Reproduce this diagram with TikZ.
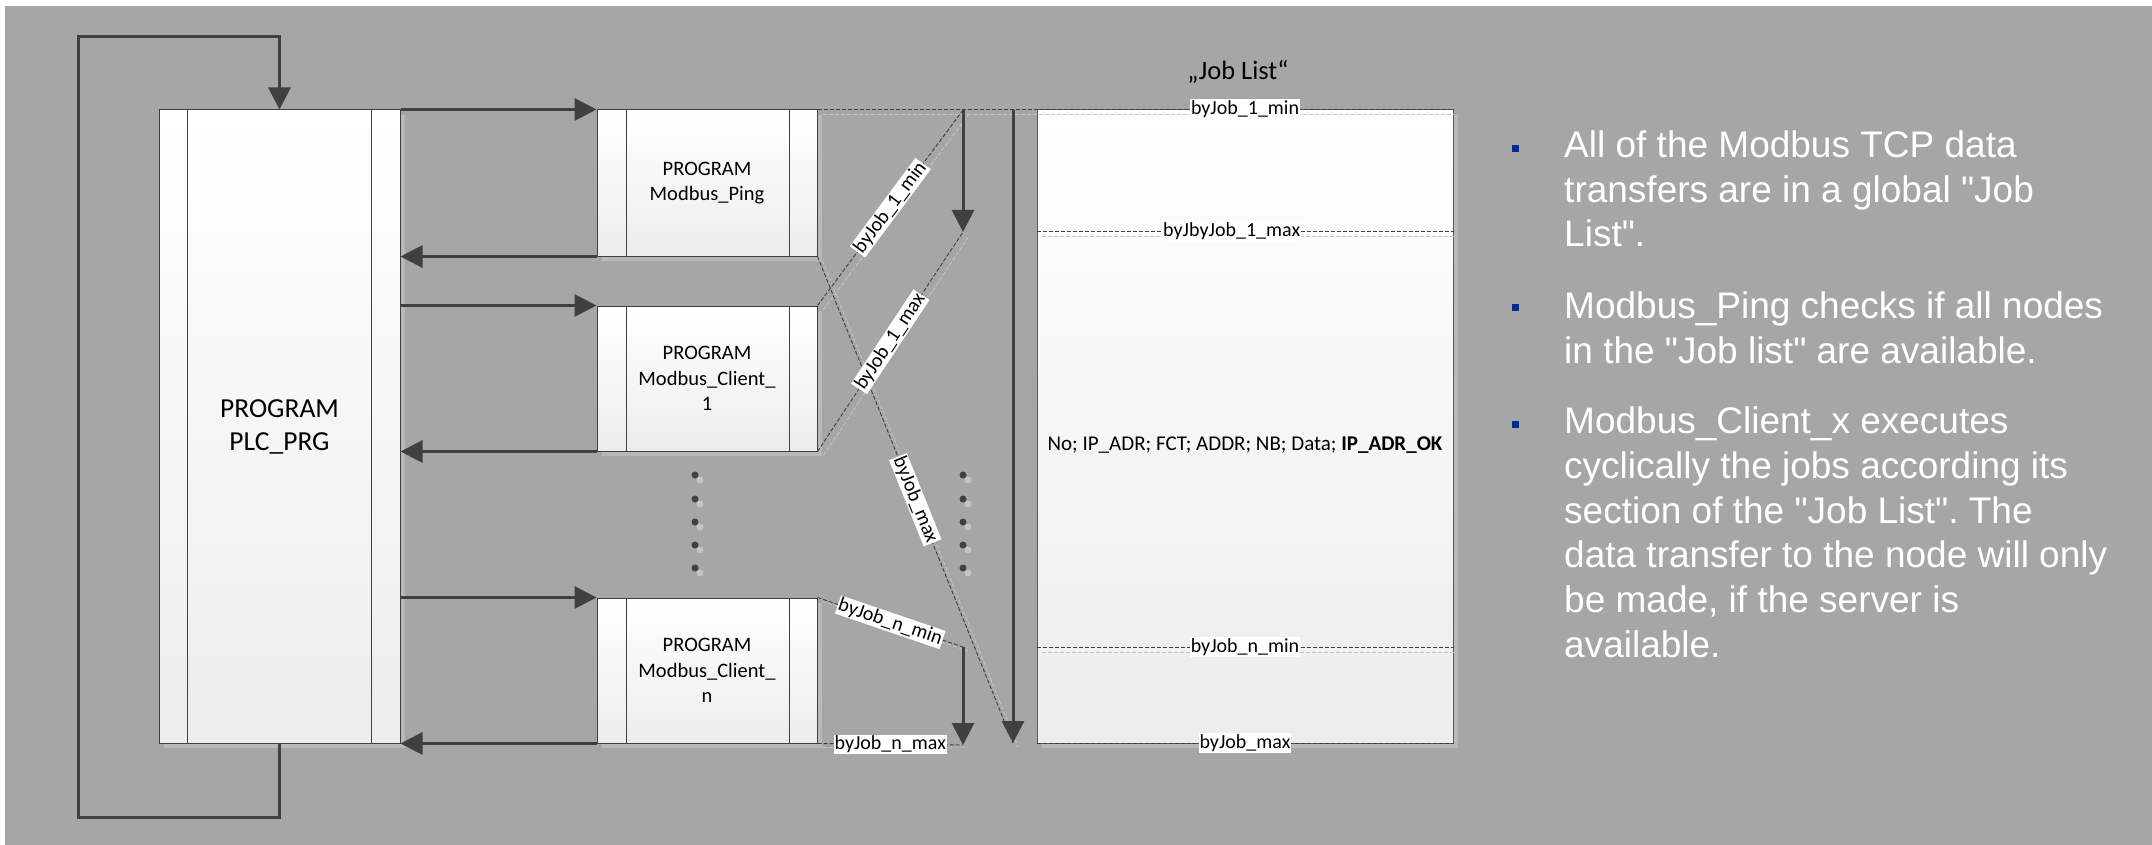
\documentclass[tikz,border=0pt]{standalone}
\usepackage{fontspec}
\setmainfont{Carlito}
\newfontfamily\arialf{Liberation Sans}
\usetikzlibrary{arrows.meta,shadows,calc}
\definecolor{bg}{HTML}{A6A6A6}
\definecolor{dk}{HTML}{404040}
\definecolor{shd}{HTML}{B9B9B9}
\definecolor{lt}{HTML}{C4C4C4}
\definecolor{boxb}{HTML}{EDEDED}
\definecolor{jlb}{HTML}{5A5A5A}
\definecolor{bul}{HTML}{002B8C}
\frenchspacing
\begin{document}
\begin{tikzpicture}[x=1pt,y=-1pt,
  arr/.style={draw=dk, line width=3pt, -{Triangle[length=22pt,width=22pt]}},
  dsh/.style={draw=dk, line width=0.9pt, dash pattern=on 4pt off 2pt},
  dshl/.style={draw=lt, line width=0.9pt, dash pattern=on 4pt off 2pt},
  boxshadow/.style={general shadow={fill=shd, draw=none, shadow xshift=5pt, shadow yshift=-5pt}},
  pbox/.style={draw=dk, line width=1pt, top color=white, bottom color=boxb, minimum width=220pt, minimum height=146pt, inner sep=0pt, align=center, font=\fontsize{20.5pt}{25.5pt}\selectfont, boxshadow},
  inner/.style={draw=dk, line width=1pt},
  lab/.style={fill=white, inner sep=1pt, font=\fontsize{20pt}{20pt}\selectfont},
  bodytext/.style={anchor=base west, inner sep=0pt, text=white, font=\arialf\fontsize{37pt}{44.5pt}\selectfont},
  bulletsq/.style={fill=bul},
]
\useasboundingbox (0,0) rectangle (2152,845);
\fill[white] (0,0) rectangle (2152,845);
\fill[bg] (5,6) rectangle (2152,845);

% main program box
\node[pbox, minimum width=241pt, minimum height=633pt, font=\fontsize{27.5pt}{33pt}\selectfont] (plc) at (279.5,426.5) {PROGRAM\\PLC\_PRG};
\draw[inner] ([xshift=29pt]plc.north west) -- ([xshift=29pt]plc.south west);
\draw[inner] ([xshift=-29pt]plc.north east) -- ([xshift=-29pt]plc.south east);

% sub programs
\node[pbox] (ping) at (707,183) {PROGRAM\\Modbus\_Ping};
\node[pbox, minimum height=145pt] (c1) at (707,378.5) {PROGRAM\\Modbus\_Client\_\\1};
\node[pbox, minimum height=145pt] (cn) at (707,670.5) {PROGRAM\\Modbus\_Client\_\\n};
\foreach \b in {ping,c1,cn}{
  \draw[inner] ([xshift=30pt]\b.north west) -- ([xshift=30pt]\b.south west);
  \draw[inner] ([xshift=-28pt]\b.north east) -- ([xshift=-28pt]\b.south east);
}

% job list
\node[draw=jlb, line width=1pt, top color=white, bottom color=boxb, minimum width=416pt, minimum height=633pt, inner sep=0pt, boxshadow] (jl) at (1245,426.5) {};
\node[font=\fontsize{21pt}{21pt}\selectfont] (fields) at (1245,445) {No; IP\_ADR; FCT; ADDR; NB; Data; \textbf{IP\_ADR\_OK}};
\node[font=\fontsize{26.5pt}{26.5pt}\selectfont] (title) at (1238,72) {„Job List“};

% loop
\coordinate (lb) at (78,817);
\coordinate (lt) at (78,37);
\draw[arr] (plc.south) |- (lb) -- (lt) -| (plc.north);

% call / return arrows
\draw[arr] (plc.north east) -- (ping.north west);
\draw[arr] (ping.south west) -- (plc.east |- ping.south west);
\draw[arr] (plc.east |- c1.north west) -- (c1.north west);
\draw[arr] (c1.south west) -- (plc.east |- c1.south west);
\draw[arr] (plc.east |- cn.north west) -- (cn.north west);
\draw[arr] (cn.south west) -- (plc.east |- cn.south west);

% dots
\foreach \y in {475,499,522,545,568}{
  \fill[lt] (700,\y+5) circle (3.5pt);
  \fill[dk] (695,\y) circle (3.5pt);
  \fill[lt] (968,\y+5) circle (3.5pt);
  \fill[dk] (963,\y) circle (3.5pt);
}

% coordinates of arrows
\coordinate (a1s) at (963,110);
\coordinate (a1e) at (963,232);
\coordinate (a2s) at (1013,110);
\coordinate (a2e) at (1013,743);
\coordinate (ans) at (963,647);
\coordinate (ane) at (963,745);
\coordinate (m1) at (1245,231);
\coordinate (mn) at (1245,647);

% light shadow dashes
\draw[dshl] ($(ping.north east)+(5,5)$) -- ($(jl.north east)+(0,5)$);
\draw[dshl] ($(ping.south east)+(5,4)$) -- ($(a2e)+(5,4)$);
\draw[dshl] ($(c1.north east)+(6,4)$) -- ($(a1s)+(6,4)$);
\draw[dshl] ($(c1.south east)+(6,4)$) -- ($(a1e)+(6,4)$);
\draw[dshl] ($(cn.north east)+(5,4)$) -- ($(ans)+(5,4)$);
\draw[dshl] ($(cn.south east)+(5,4)$) -- ($(ane)+(5,2)$);
\draw[dshl] ($(jl.west |- m1)+(5,5)$) -- ($(jl.east |- m1)+(0,5)$);
\draw[dshl] ($(jl.west |- mn)+(5,5)$) -- ($(jl.east |- mn)+(0,5)$);

% dark dashed lines
\draw[dsh] (ping.north east) -- (jl.north west) -- (jl.north east);
\draw[dsh] (jl.west |- m1) -- (jl.east |- m1);
\draw[dsh] (jl.west |- mn) -- (jl.east |- mn);
\draw[dsh] (jl.south west) -- (jl.south east);
\draw[dsh] (ping.south east) -- node[lab, sloped] (lmax) {byJob\_max} (a2e);
\draw[dsh] (c1.north east) -- node[lab, sloped] (l1min) {byJob\_1\_min} (a1s);
\draw[dsh] (c1.south east) -- node[lab, sloped] (l1max) {byJob\_1\_max} (a1e);
\draw[dsh] (cn.north east) -- node[lab, sloped] (lnmin) {byJob\_n\_min} (ans);
\draw[dsh] (cn.south east) -- node[lab] (lnmax) {byJob\_n\_max} (ane);

% vertical arrows
\draw[arr] (a1s) -- (a1e);
\draw[arr] (a2s) -- (a2e);
\draw[arr] (ans) -- (ane);

% job list labels
\node[lab] (j1min) at (1245,109) {byJob\_1\_min};
\node[lab, anchor=west] (j1maxa) at (1162,231) {byJob\_1\_max};
\node[lab, anchor=west] (j1maxb) at (1188,231) {byJob\_1\_max};
\node[lab] (jnmin) at (mn) {byJob\_n\_min};
\node[lab] (jmax) at (1245,743) {byJob\_max};

% bullets and text
\fill[bulletsq] (1512,145) rectangle (1519,152);
\fill[bulletsq] (1512,304) rectangle (1519,311);
\fill[bulletsq] (1512,421) rectangle (1519,428);
\node[bodytext] (t11) at (1564,158) {All of the Modbus TCP data};
\node[bodytext] (t12) at (1564,202.5) {transfers are in a global "Job};
\node[bodytext] (t13) at (1564,247) {List".};
\node[bodytext] (t21) at (1564,318) {Modbus\_Ping checks if all nodes};
\node[bodytext] (t22) at (1564,363) {in the "Job list" are available.};
\node[bodytext] (t31) at (1564,433) {Modbus\_Client\_x executes};
\node[bodytext] (t32) at (1564,478) {cyclically the jobs according its};
\node[bodytext] (t33) at (1564,523) {section of the "Job List". The};
\node[bodytext] (t34) at (1564,567.5) {data transfer to the node will only};
\node[bodytext] (t35) at (1564,612) {be made, if the server is};
\node[bodytext] (t36) at (1564,657) {available.};
\end{tikzpicture}
\end{document}
